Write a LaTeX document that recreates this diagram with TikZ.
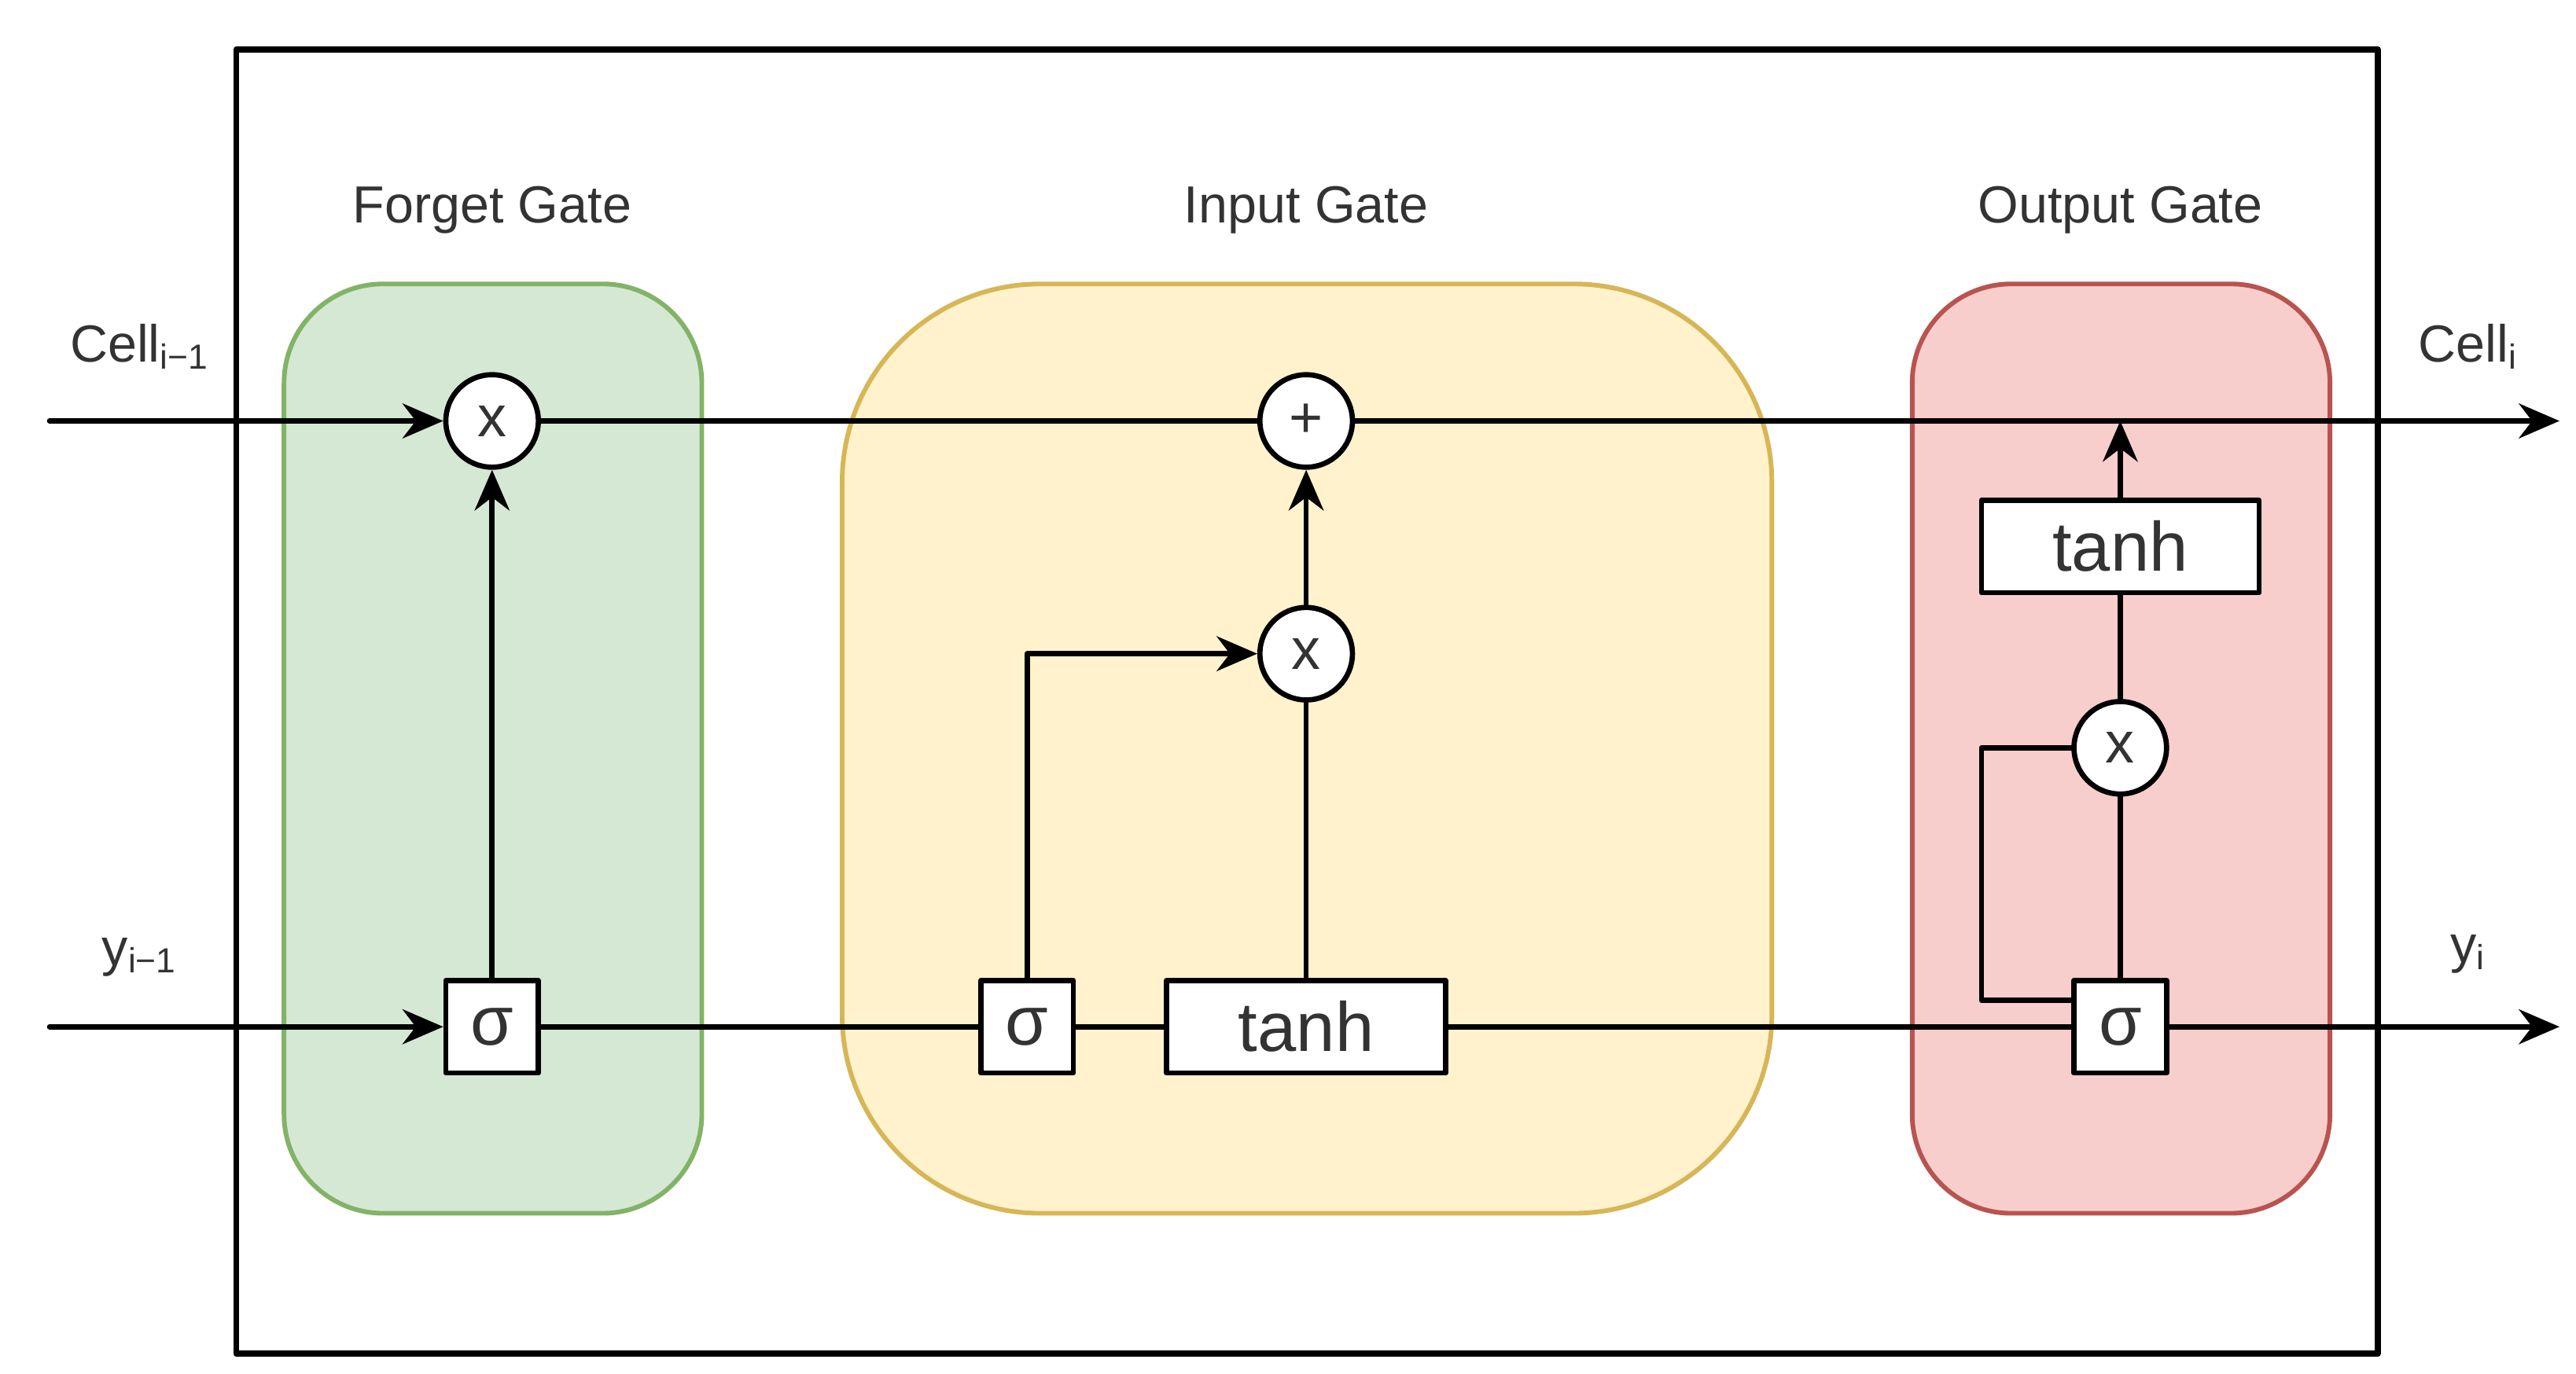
\documentclass[tikz,border=0pt]{standalone}
\usepackage{fontspec}
\setmainfont{Liberation Sans}
\usetikzlibrary{arrows.meta, calc, positioning}
\definecolor{fgfill}{HTML}{D5E8D4}\definecolor{fgdraw}{HTML}{82B366}
\definecolor{igfill}{HTML}{FFF2CC}\definecolor{igdraw}{HTML}{D6B656}
\definecolor{ogfill}{HTML}{F8CECC}\definecolor{ogdraw}{HTML}{B85450}
\definecolor{txt}{HTML}{333333}
\begin{document}
\begin{tikzpicture}[x=0.01cm,y=-0.01cm,line cap=round,line join=round,>={Stealth[length=7pt,width=6pt]},
  gate/.style={rounded corners=0.6cm, line width=0.8pt},
  op/.style={circle, draw, fill=white, line width=0.9pt, minimum size=0.56cm, inner sep=0pt, text=txt, font=\fontsize{10}{12}\selectfont},
  act/.style={rectangle, draw, fill=white, line width=0.9pt, minimum height=0.56cm, minimum width=0.56cm, inner sep=0pt, text=txt, font=\fontsize{12}{14}\selectfont},
  lbl/.style={text=txt, font=\fontsize{9}{11}\selectfont},
  wire/.style={line width=0.9pt}]
\useasboundingbox (0,0) rectangle (1560,832);
% Outer box
\draw [line width=1pt] (143,30) rectangle (1440,820);

% Gate regions
\draw [gate, fill=fgfill, draw=fgdraw] (172,172) rectangle (425,735);
\draw [gate, fill=igfill, draw=igdraw, rounded corners=1.2cm] (510,172) rectangle (1073,735);
\draw [gate, fill=ogfill, draw=ogdraw] (1158,172) rectangle (1411,735);
\node [lbl] (fgl) at (298,127) {Forget Gate};
\node [lbl] (igl) at (791,127) {Input Gate};
\node [lbl] (ogl) at (1284,127) {Output Gate};

% End points
\coordinate (cin) at (30,255);
\coordinate (cout) at (1550,255);
\coordinate (yin) at (30,622);
\coordinate (yout) at (1550,622);
\coordinate (cjoin) at (1284,255);
\coordinate (loop) at (1200,453);

% Operators
\node [op] (fx) at (298,255) {x};
\node [act] (fs) at (298,622) {σ};
\node [op] (plus) at (791,255) {+};
\node [op] (ix) at (791,396) {x};
\node [act] (is) at (622,622) {σ};
\node [act, minimum width=1.69cm] (it) at (791,622) {tanh};
\node [act, minimum width=1.68cm] (ot) at (1284,331) {tanh};
\node [op] (ox) at (1284,453) {x};
\node [act] (os) at (1284,622) {σ};

% Cell line
\draw [wire, ->] (cin) -- (fx);
\draw [wire] (fx) -- (plus);
\draw [wire, ->] (plus) -- (cout);
% Hidden line
\draw [wire, ->] (yin) -- (fs);
\draw [wire] (fs) -- (is) -- (it) -- (os);
\draw [wire, ->] (os) -- (yout);
% Gate wiring
\draw [wire, ->] (fs) -- (fx);
\draw [wire, ->] (is) |- (ix);
\draw [wire] (it) -- (ix);
\draw [wire, ->] (ix) -- (plus);
\draw [wire] (os) -- (ox) -- (ot);
\draw [wire, ->] (ot) -- (cjoin);
\draw [wire] (ox) -- (loop) |- ($(os.west)+(0,-16)$);

% Labels
\node [lbl] (cl) at (85,210) {Cell\textsubscript{i−1}};
\node [lbl] (yl) at (85,580) {y\textsubscript{i−1}};
\node [lbl] (cr) at (1495,210) {Cell\textsubscript{i}};
\node [lbl] (yr) at (1495,578) {y\textsubscript{i}};
\end{tikzpicture}
\end{document}
